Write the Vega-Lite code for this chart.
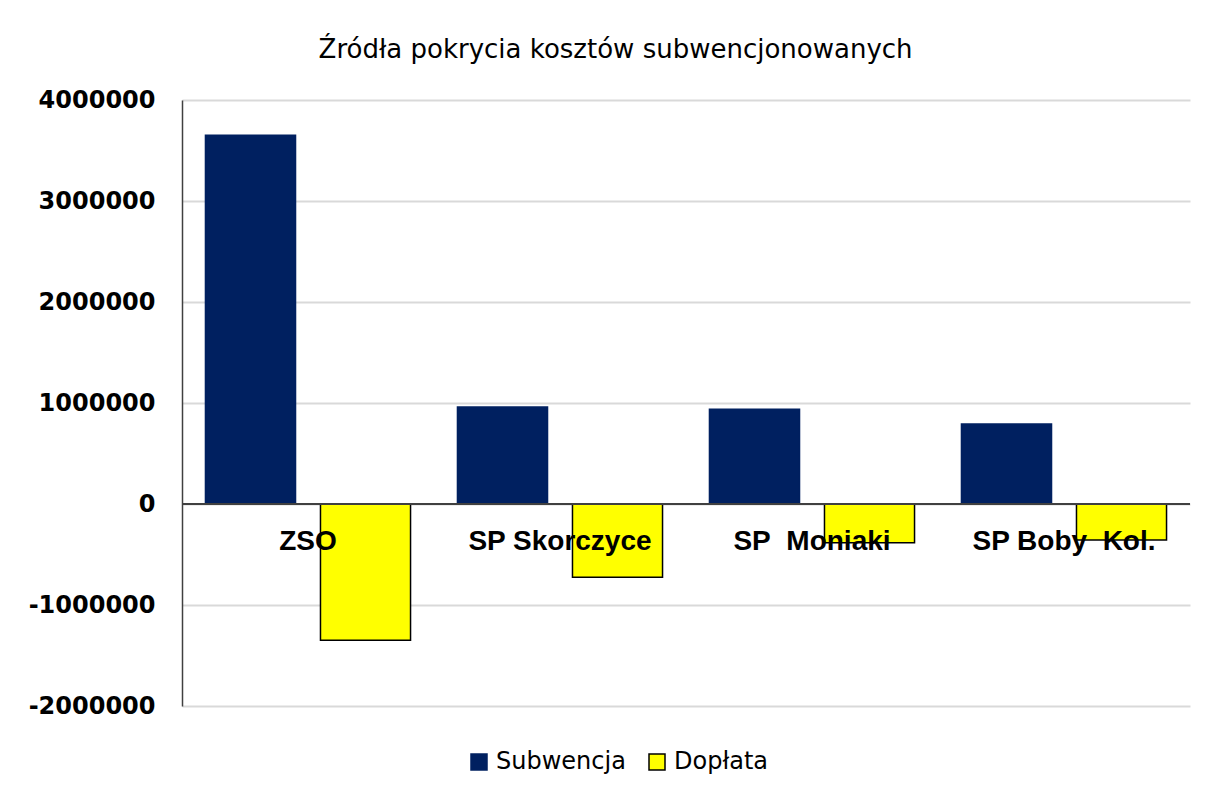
{
  "$schema": "https://vega.github.io/schema/vega-lite/v6.json",
  "width": 1008,
  "height": 606,
  "autosize": {"type": "none"},
  "padding": {"left": 182, "top": 100, "right": 20, "bottom": 87},
  "background": "white",
  "title": {
    "text": "Źródła pokrycia kosztów subwencjonowanych",
    "font": "DejaVu Sans",
    "fontSize": 26,
    "fontWeight": "normal",
    "color": "#000000",
    "anchor": "middle",
    "frame": "bounds",
    "offset": 25,
    "dx": 6
  },
  "data": {
    "values": [
      {"school": "ZSO", "type": "Subwencja", "value": 3650000},
      {"school": "ZSO", "type": "Dopłata", "value": -1350000},
      {"school": "SP Skorczyce", "type": "Subwencja", "value": 960000},
      {"school": "SP Skorczyce", "type": "Dopłata", "value": -725000},
      {"school": "SP\u00a0 Moniaki", "type": "Subwencja", "value": 937000},
      {"school": "SP\u00a0 Moniaki", "type": "Dopłata", "value": -383000},
      {"school": "SP Boby\u00a0 Kol.", "type": "Subwencja", "value": 792000},
      {"school": "SP Boby\u00a0 Kol.", "type": "Dopłata", "value": -356000}
    ]
  },
  "layer": [
    {
      "mark": {"type": "bar", "strokeWidth": 1.5},
      "encoding": {
        "x": {
          "field": "school",
          "type": "nominal",
          "sort": null,
          "scale": {"paddingInner": 0, "paddingOuter": 0},
          "axis": null
        },
        "xOffset": {
          "field": "type",
          "type": "nominal",
          "scale": {"domain": ["Subwencja", "Dopłata"], "paddingInner": 0.217, "paddingOuter": 0.204}
        },
        "y": {
          "field": "value",
          "type": "quantitative",
          "scale": {"domain": [-2000000, 4000000], "nice": false},
          "axis": {
            "title": null,
            "values": [-2000000, -1000000, 0, 1000000, 2000000, 3000000, 4000000],
            "labelExpr": "'' + datum.value",
            "ticks": false,
            "labelPadding": 27,
            "labelFont": "DejaVu Sans",
            "labelFontSize": 24,
            "labelFontWeight": "bold",
            "labelColor": "#000000",
            "domainColor": "#404040",
            "domainWidth": 1.5,
            "gridColor": "#d9d9d9",
            "gridWidth": 2
          }
        },
        "color": {
          "field": "type",
          "type": "nominal",
          "scale": {"domain": ["Subwencja", "Dopłata"], "range": ["#002060", "#ffff00"]},
          "legend": {
            "title": null,
            "orient": "none",
            "direction": "horizontal",
            "legendX": 285,
            "legendY": 650,
            "padding": 0,
            "symbolType": "square",
            "symbolSize": 256,
            "symbolStrokeWidth": 1.5,
            "labelFont": "DejaVu Sans",
            "labelFontSize": 24,
            "labelColor": "#000000",
            "labelOffset": 5,
            "columnPadding": 19
          }
        },
        "stroke": {
          "field": "type",
          "type": "nominal",
          "scale": {"domain": ["Subwencja", "Dopłata"], "range": ["#002060", "#000000"]},
          "legend": {
            "title": null,
            "orient": "none",
            "direction": "horizontal",
            "legendX": 285,
            "legendY": 650,
            "padding": 0,
            "symbolType": "square",
            "symbolSize": 256,
            "symbolStrokeWidth": 1.5,
            "labelFont": "DejaVu Sans",
            "labelFontSize": 24,
            "labelColor": "#000000",
            "labelOffset": 5,
            "columnPadding": 19
          }
        }
      }
    },
    {
      "mark": {"type": "rule", "color": "#404040", "strokeWidth": 2},
      "encoding": {"y": {"datum": 0}}
    },
    {
      "transform": [{"filter": "datum.type === 'Subwencja'"}],
      "mark": {
        "type": "text",
        "font": "Liberation Sans",
        "fontSize": 28,
        "fontWeight": "bold",
        "color": "#000000",
        "baseline": "alphabetic",
        "align": "center",
        "dy": 46
      },
      "encoding": {
        "x": {"field": "school", "type": "nominal", "sort": null},
        "y": {"datum": 0},
        "text": {"field": "school"}
      }
    }
  ],
  "config": {
    "view": {"stroke": null}
  }
}
